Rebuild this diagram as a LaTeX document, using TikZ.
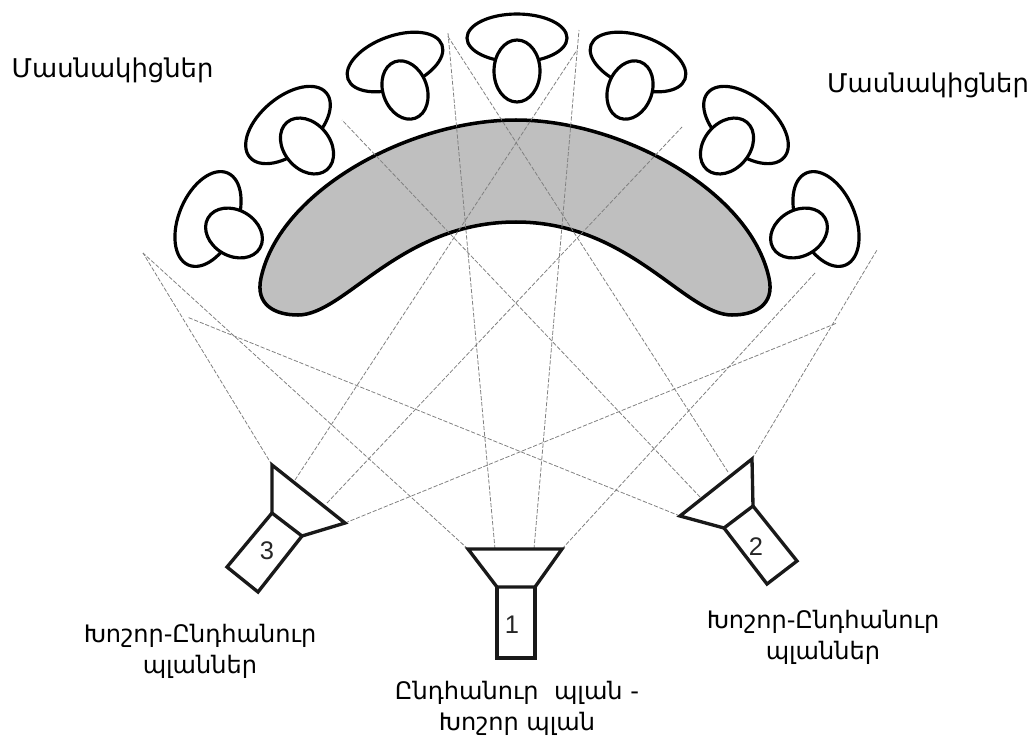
\documentclass[tikz,border=0pt]{standalone}
\usepackage{fontspec}
\setmainfont{DejaVu Sans}
\newfontfamily\digitfont{Liberation Sans}
\tikzset{
  actorline/.style={draw=black,fill=white,line width=1.8pt},
  bandline/.style={draw=black,fill=black!25,line width=2pt},
  camline/.style={draw=black!90,line width=1.9pt,line join=miter},
  sightline/.style={draw=black!50,line width=0.45pt,dash pattern=on 2.4pt off 1pt},
  roletext/.style={font=\fontsize{14.7}{18}\selectfont,inner sep=0pt},
  shottext/.style={font=\fontsize{13.7}{17.6}\selectfont,align=center,inner sep=0pt},
  camnum/.style={font=\digitfont\fontsize{14.5}{14.5}\selectfont,text=black!85,inner sep=0pt}
}
\begin{document}
\begin{tikzpicture}[x=0.02cm,y=-0.02cm]
\useasboundingbox (0,0) rectangle (1032,741);

\coordinate (cam1a) at (468,549);
\coordinate (cam1b) at (562,549);
\coordinate (cam1c) at (535,587);
\coordinate (cam1d) at (497,587);
\coordinate (cam1e) at (497,658);
\coordinate (cam1f) at (535,658);
\coordinate (cam1p) at (495,549);
\coordinate (cam1q) at (534,549);

\coordinate (cam2a) at (752,459);
\coordinate (cam2b) at (680,516);
\coordinate (cam2c) at (724,528);
\coordinate (cam2d) at (753,506);
\coordinate (cam2e) at (797,561);
\coordinate (cam2f) at (767,584);
\coordinate (cam2p) at (728,472);
\coordinate (cam2q) at (700,497);

\coordinate (cam3a) at (272,465);
\coordinate (cam3b) at (345,523);
\coordinate (cam3c) at (302,536);
\coordinate (cam3d) at (272,513);
\coordinate (cam3e) at (227,567);
\coordinate (cam3f) at (258,592);
\coordinate (cam3p) at (295,480);
\coordinate (cam3q) at (327,503);

\coordinate (far1a) at (143,253);
\coordinate (far1b) at (815,273);
\coordinate (far1p) at (448,33);
\coordinate (far1q) at (579,30);
\coordinate (far2a) at (877,250);
\coordinate (far2b) at (187,317);
\coordinate (far2p) at (447,35);
\coordinate (far2q) at (342,120);
\coordinate (far3a) at (143,253);
\coordinate (far3b) at (837,323);
\coordinate (far3p) at (577,50);
\coordinate (far3q) at (682,127);

\draw[bandline] (516,120) .. controls (410,120) and (280,190) .. (261,278)
  .. controls (255,305) and (275,315) .. (298,315)
  .. controls (345,315) and (400,222) .. (516,222)
  .. controls (630,222) and (685,315) .. (732,315)
  .. controls (755,315) and (775,305) .. (769,278)
  .. controls (750,190) and (620,120) .. (516,120) -- cycle;

\draw[sightline] (cam1a) -- (far1a);
\draw[sightline] (cam1b) -- (far1b);
\draw[sightline] (cam1p) -- (far1p);
\draw[sightline] (cam1q) -- (far1q);
\draw[sightline] (cam2a) -- (far2a);
\draw[sightline] (cam2b) -- (far2b);
\draw[sightline] (cam2p) -- (far2p);
\draw[sightline] (cam2q) -- (far2q);
\draw[sightline] (cam3a) -- (far3a);
\draw[sightline] (cam3b) -- (far3b);
\draw[sightline] (cam3p) -- (far3p);
\draw[sightline] (cam3q) -- (far3q);

\draw[actorline,rotate around={67:(208,219)}] (208,219) ellipse (50 and 29);
\draw[actorline,rotate around={-30:(234,233)}] (234,233) ellipse (30 and 23);
\draw[actorline,rotate around={40:(288,125)}] (288,125) ellipse (50 and 28);
\draw[actorline,rotate around={-50:(307,146)}] (307,146) ellipse (31 and 23);
\draw[actorline,rotate around={20:(395,62)}] (395,62) ellipse (50 and 26);
\draw[actorline,rotate around={-70:(405,90)}] (405,90) ellipse (30 and 22);
\draw[actorline] (517,38) ellipse (50 and 24);
\draw[actorline] (517,71) ellipse (23 and 31);
\draw[actorline,rotate around={-20:(638,62)}] (638,62) ellipse (50 and 26);
\draw[actorline,rotate around={70:(630,90)}] (630,90) ellipse (30 and 22);
\draw[actorline,rotate around={-40:(746,125)}] (746,125) ellipse (50 and 28);
\draw[actorline,rotate around={50:(727,146)}] (727,146) ellipse (31 and 23);
\draw[actorline,rotate around={-67:(826,219)}] (826,219) ellipse (50 and 29);
\draw[actorline,rotate around={30:(799,233)}] (799,233) ellipse (30 and 23);

\draw[camline] (cam1a) -- (cam1b) -- (cam1c) -- (cam1d) -- cycle;
\draw[camline] (cam1d) -- (cam1e) -- (cam1f) -- (cam1c);
\draw[camline] (cam2a) -- (cam2b) -- (cam2c) -- (cam2d) -- cycle;
\draw[camline] (cam2c) -- (cam2f) -- (cam2e) -- (cam2d);
\draw[camline] (cam3a) -- (cam3b) -- (cam3c) -- (cam3d) -- cycle;
\draw[camline] (cam3d) -- (cam3e) -- (cam3f) -- (cam3c);

\node[camnum] (num1) at (512,625) {1};
\node[camnum] (num2) at (756,547) {2};
\node[camnum] (num3) at (267,551) {3};

\node[roletext] (roleL) at (112.5,70) {Մասնակիցներ};
\node[roletext] (roleR) at (928,85) {Մասնակիցներ};
\node[shottext] (shotL) at (200,651) {Խոշոր-Ընդհանուր\\պլաններ};
\node[shottext] (shotR) at (823,637) {Խոշոր-Ընդհանուր\\պլաններ};
\node[shottext] (shotC) at (517,708) {Ընդհանուր\ \ պլան -\\Խոշոր պլան};
\end{tikzpicture}
\end{document}
